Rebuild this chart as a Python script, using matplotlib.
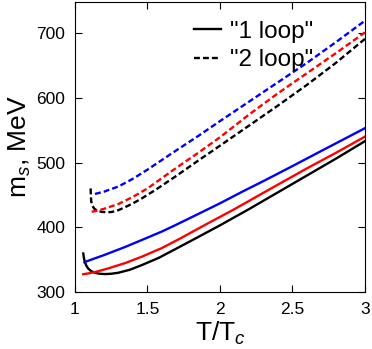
import numpy as np
import matplotlib
matplotlib.use("Agg")
from matplotlib import pyplot as plt

plt.rcParams['font.family'] = ['Liberation Sans', 'DejaVu Sans']
plt.rcParams['mathtext.fontset'] = 'custom'
plt.rcParams['mathtext.rm'] = 'Liberation Sans'
plt.rcParams['mathtext.it'] = 'Liberation Sans:italic'

# ---------------------------------------
# Curves (T/Tc, MeV)
# ---------------------------------------
# 1 loop
x_blue1 = [1.065, 1.1, 1.2, 1.345, 1.5, 1.6, 1.69, 1.85, 2.0, 2.15, 2.31, 2.5, 2.7, 2.85, 3.0]
y_blue1 = [346, 349, 357, 369.5, 384, 393.5, 403, 420.5, 437, 454.5, 472.5, 494.5, 518, 535.5, 553]

x_red1 = [1.057, 1.1, 1.15, 1.23, 1.35, 1.46, 1.6, 1.72, 1.9, 2.1, 2.345, 2.6, 2.8, 3.0]
y_red1 = [327.5, 329, 331.5, 336.5, 345, 354.5, 368, 382, 404, 428, 459, 491, 515, 540]

x_black1 = [1.057, 1.062, 1.07, 1.08, 1.092, 1.11, 1.138, 1.17, 1.207, 1.25, 1.3,
            1.38, 1.46, 1.58, 1.69, 1.8, 2.0, 2.2, 2.4, 2.6, 2.8, 3.0]
y_black1 = [359.5, 352, 345, 340, 336, 332.5, 329.7, 328.2, 327.7, 328.2, 329.8,
            334.5, 341.5, 353, 366, 379, 403, 428, 454, 480, 506, 533]

# 2 loop
x_blue2 = [1.138, 1.2, 1.3, 1.4, 1.5, 1.6, 1.7, 1.85, 2.0, 2.2, 2.4, 2.6, 2.8, 3.0]
y_blue2 = [451.5, 455, 463, 475, 489, 504, 519, 541, 564, 594, 624, 654, 686, 719]

x_red2 = [1.115, 1.15, 1.2, 1.3, 1.4, 1.5, 1.6, 1.7, 1.85, 2.0, 2.2, 2.4, 2.6, 2.8, 3.0]
y_red2 = [424, 425.5, 428.5, 436, 447, 460, 476, 492, 515, 539, 574, 607, 638, 669, 701]

x_black2 = [1.108, 1.109, 1.112, 1.12, 1.133, 1.155, 1.184, 1.22, 1.253, 1.3, 1.345,
            1.4, 1.46, 1.55, 1.69, 1.85, 2.0, 2.2, 2.4, 2.6, 2.8, 3.0]
y_black2 = [460, 450, 440, 433, 428.7, 425.5, 423.8, 423.2, 423.6, 426.5, 431,
            437, 444.5, 457, 478, 503, 526, 557, 588, 620, 654, 691]

x_ticks = [1, 1.5, 2, 2.5, 3]
x_ticklabels = ['1', '1.5', '2', '2.5', '3']
y_ticks = [300, 400, 500, 600, 700]

# ---------------------------------------
# Figure
# ---------------------------------------
fig = plt.figure(figsize=(3.72, 3.49), dpi=100)
ax = fig.add_axes([0.2016, 0.1633, 0.7794, 0.831])

lw = 1.7
dash = (2.5, 1.3)
ax.plot(x_black1, y_black1, color='black', lw=lw, label='"1 loop"')
ax.plot(x_black2, y_black2, color='black', lw=lw, dashes=dash, label='"2 loop"')
ax.plot(x_red1, y_red1, color='red', lw=lw)
ax.plot(x_blue1, y_blue1, color='blue', lw=lw)
ax.plot(x_red2, y_red2, color='red', lw=lw, dashes=dash)
ax.plot(x_blue2, y_blue2, color='blue', lw=lw, dashes=dash)

ax.set_xlim(1, 3)
ax.set_ylim(300, 748)
ax.set_xticks(x_ticks)
ax.set_xticklabels(x_ticklabels)
ax.set_yticks(y_ticks)
ax.tick_params(direction='in', top=True, right=True, length=5, width=0.8,
               labelsize=12.5, pad=7)
for s in ax.spines.values():
    s.set_linewidth(0.8)

ax.set_xlabel(r'T/T$_{\mathit{c}}$', fontsize=19, labelpad=2)
ax.set_ylabel(r'm$_{\mathit{s}}$, MeV', fontsize=19, labelpad=2)

ax.legend(loc='upper left', bbox_to_anchor=(0.335, 1.01), frameon=False,
          fontsize=17.5, handlelength=1.1, handletextpad=0.4, labelspacing=0.25)

fig.savefig('out.png', dpi=100)
